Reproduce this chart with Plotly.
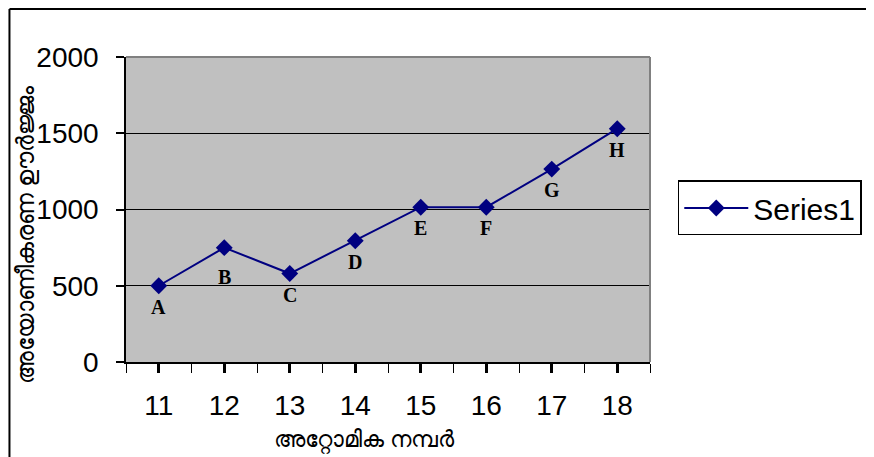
import plotly.graph_objects as go

atomic_numbers = [11, 12, 13, 14, 15, 16, 17, 18]
ionization_energy = [500, 750, 580, 795, 1015, 1015, 1265, 1530]
point_labels = ["A", "B", "C", "D", "E", "F", "G", "H"]
y_ticks = [0, 500, 1000, 1500, 2000]
series_name = "Series1"
x_title = "അറ്റോമിക നമ്പർ"
y_title = "അയോണീകരണ ഊർജ്ജം"

NAVY = "#000080"

fig = go.Figure()
fig.add_trace(go.Scatter(
    x=atomic_numbers, y=ionization_energy, mode="lines+markers", name=series_name,
    line=dict(color=NAVY, width=2),
    marker=dict(symbol="diamond", size=13, color=NAVY),
))

label_shift = {"B": -29}
for xv, yv, lab in zip(atomic_numbers, ionization_energy, point_labels):
    fig.add_annotation(x=xv, y=yv, text=f"<b>{lab}</b>", showarrow=False,
                       yshift=label_shift.get(lab, -21),
                       font=dict(family="Liberation Serif", size=20, color="black"))

# axis titles
fig.add_annotation(xref="paper", yref="paper", x=0.456, y=-0.25, text=x_title,
                   xanchor="center", yanchor="middle",
                   showarrow=False, font=dict(family="Noto Sans", size=23, color="black"))
fig.add_annotation(xref="paper", yref="paper", x=-0.194, y=0.416, text=y_title,
                   xanchor="center", yanchor="middle",
                   textangle=-90, showarrow=False,
                   font=dict(family="Noto Sans", size=24, color="black"))

# plot border (top/right gray)
fig.add_shape(type="line", xref="paper", yref="paper", x0=0, x1=1, y0=1, y1=1,
              line=dict(color="#808080", width=2))
fig.add_shape(type="line", xref="paper", yref="paper", x0=1, x1=1, y0=0, y1=1,
              line=dict(color="#808080", width=2))
# outer chart frame
fig.add_shape(type="line", xref="paper", yref="paper", x0=-0.2224, x1=1.5,
              y0=1.1574, y1=1.1574, line=dict(color="black", width=2))
fig.add_shape(type="line", xref="paper", yref="paper", x0=-0.2224, x1=-0.2224,
              y0=-0.4, y1=1.1574, line=dict(color="black", width=2))

fig.update_layout(
    width=866, height=449,
    margin=dict(l=118, r=222, t=49, b=95),
    paper_bgcolor="white", plot_bgcolor="#C0C0C0",
    font=dict(family="Liberation Sans", size=28, color="black"),
    showlegend=True,
    legend=dict(x=1.053, y=0.505, xanchor="left", yanchor="middle",
                bgcolor="white", bordercolor="black", borderwidth=1.5,
                itemwidth=64,
                font=dict(family="Liberation Sans", size=30)),
    xaxis=dict(range=[10.5, 18.5], tickmode="array", tickvals=atomic_numbers,
               ticks="outside", ticklen=9, tickwidth=2.5, tickcolor="black",
               showgrid=False, zeroline=False, showline=True, linecolor="black", linewidth=1.5,
               ticklabelstandoff=9,
               minor=dict(tick0=10.5, dtick=1, ticks="outside", ticklen=9, tickwidth=1,
                          tickcolor="black", showgrid=False)),
    yaxis=dict(range=[0, 2000], tickmode="array", tickvals=y_ticks,
               ticks="outside", ticklen=8, tickwidth=1.5, tickcolor="black",
               showgrid=True, gridcolor="black", gridwidth=1.2, zeroline=False,
               showline=True, linecolor="black", linewidth=1.5, ticklabelstandoff=12),
)

fig.write_html("out.html")
